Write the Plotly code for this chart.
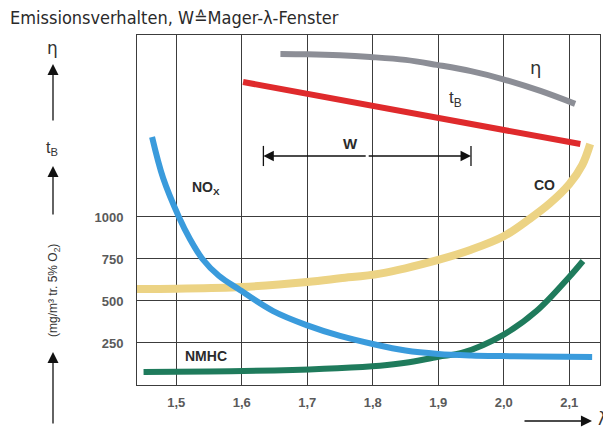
import plotly.graph_objects as go

# ---------------- data ----------------
x_ticks = [1.5, 1.6, 1.7, 1.8, 1.9, 2.0, 2.1]
x_tick_labels = ["1,5", "1,6", "1,7", "1,8", "1,9", "2,0", "2,1"]
y_ticks = [250, 500, 750, 1000]
y_tick_labels = ["250", "500", "750", "1000"]

eta_x = [1.659, 1.70, 1.75, 1.796, 1.85, 1.898, 1.95, 1.998, 2.056, 2.109]
eta_y = [1970, 1968, 1962, 1952, 1935, 1905, 1868, 1821, 1750, 1673]

tb_x = [1.602, 2.117]
tb_y = [1803, 1434]

nox_x = [1.463, 1.48, 1.504, 1.52, 1.540, 1.565, 1.595, 1.648, 1.700, 1.750,
         1.800, 1.850, 1.900, 1.950, 2.000, 2.050, 2.135]
nox_y = [1476, 1230, 1000, 875, 750, 650, 571, 440, 355, 292,
         244, 205, 185, 176, 172, 169, 167]

co_x = [1.440, 1.500, 1.600, 1.700, 1.750, 1.811, 1.900, 1.950, 2.000, 2.040,
        2.070, 2.100, 2.120, 2.132]
co_y = [571, 573, 583, 613, 635, 663, 745, 805, 885, 990,
        1080, 1195, 1310, 1434]

nmhc_x = [1.450, 1.550, 1.650, 1.746, 1.811, 1.850, 1.900, 1.937, 2.000, 2.050,
          2.100, 2.121]
nmhc_y = [77, 80, 87, 100, 115, 132, 168, 192, 300, 440, 643, 738]

w_window = [1.633, 1.950]
w_level = 1363

# ---------------- layout geometry (pixels) ----------------
FW, FH = 603, 427
L, R, T, B = 137, 600, 35, 385
PW, PH = R - L, B - T


def px(xp):
    return (xp - L) / PW


def py(yp):
    return (B - yp) / PH


fig = go.Figure()

fig.add_trace(go.Scatter(x=eta_x, y=eta_y, mode="lines", line=dict(color="#8c8e96", width=6, shape="spline"), hoverinfo="skip"))
fig.add_trace(go.Scatter(x=tb_x, y=tb_y, mode="lines", line=dict(color="#df2a2c", width=6), hoverinfo="skip"))
fig.add_trace(go.Scatter(x=co_x, y=co_y, mode="lines", line=dict(color="#ecd384", width=8, shape="spline"), hoverinfo="skip"))
fig.add_trace(go.Scatter(x=nmhc_x, y=nmhc_y, mode="lines", line=dict(color="#1f7b5c", width=6, shape="spline"), hoverinfo="skip"))
fig.add_trace(go.Scatter(x=nox_x, y=nox_y, mode="lines", line=dict(color="#3a9bdc", width=6, shape="spline"), hoverinfo="skip"))

bold_font = dict(family="Liberation Sans, Arial", size=14, color="#2b2b2b", weight="bold")

annotations = []
# curve labels (data coordinates)
annotations.append(dict(x=2.048, y=1890, text="η", showarrow=False, font=dict(family="DejaVu Sans", size=18, color="#333")))
annotations.append(dict(x=1.926, y=1700, text="t<sub>B</sub>", showarrow=False, font=dict(family="Liberation Sans, Arial", size=17, color="#333")))
annotations.append(dict(x=1.766, y=1440, text="W", showarrow=False, font=dict(family="Liberation Sans, Arial", size=15, color="#2b2b2b", weight="bold")))
annotations.append(dict(x=1.545, y=1175, text="NO<sub>X</sub>", showarrow=False, font=bold_font))
annotations.append(dict(x=2.063, y=1190, text="CO", showarrow=False, font=bold_font))
annotations.append(dict(x=1.545, y=170, text="NMHC", showarrow=False, font=bold_font))

# W window arrows
w_mid = (w_window[0] + w_window[1]) / 2
for xe in w_window:
    annotations.append(dict(x=xe, y=w_level, ax=w_mid, ay=w_level, axref="x", ayref="y", xref="x", yref="y",
                            text="", showarrow=True, arrowhead=2, arrowsize=1.6, arrowwidth=1.3, arrowcolor="#111"))

# title
annotations.append(dict(x=px(8), y=py(17), xref="paper", yref="paper", xanchor="left", yanchor="middle",
                        text="Emissionsverhalten, W≙Mager-λ-Fenster", showarrow=False,
                        font=dict(family="Liberation Sans Narrow, DejaVu Sans Condensed, Arial Narrow", size=18, color="#2a2a2a")))

# left side labels
annotations.append(dict(x=px(52), y=py(48), xref="paper", yref="paper", xanchor="center", yanchor="middle",
                        text="η", showarrow=False, font=dict(family="DejaVu Sans", size=17, color="#333")))
annotations.append(dict(x=px(53), y=py(64), xref="paper", yref="paper", ax=0, ay=58, text="", showarrow=True,
                        arrowhead=2, arrowsize=1.7, arrowwidth=1.3, arrowcolor="#111"))
annotations.append(dict(x=px(52), y=py(148), xref="paper", yref="paper", xanchor="center", yanchor="middle",
                        text="t<sub>B</sub>", showarrow=False,
                        font=dict(family="Liberation Sans, Arial", size=16, color="#333")))
annotations.append(dict(x=px(53), y=py(166), xref="paper", yref="paper", ax=0, ay=50, text="", showarrow=True,
                        arrowhead=2, arrowsize=1.7, arrowwidth=1.3, arrowcolor="#111"))
annotations.append(dict(x=px(54), y=py(291), xref="paper", yref="paper", xanchor="center", yanchor="middle",
                        text="(mg/m³ tr. 5% O<sub>2</sub>)", textangle=-90, showarrow=False,
                        font=dict(family="Liberation Sans, Arial", size=12, color="#333")))
annotations.append(dict(x=px(53), y=py(352), xref="paper", yref="paper", ax=0, ay=73, text="", showarrow=True,
                        arrowhead=2, arrowsize=1.7, arrowwidth=1.3, arrowcolor="#111"))
# lambda arrow
annotations.append(dict(x=px(592), y=py(421), xref="paper", yref="paper", ax=-69, ay=0, text="", showarrow=True,
                        arrowhead=2, arrowsize=1.7, arrowwidth=1.3, arrowcolor="#111"))
annotations.append(dict(x=px(596), y=py(419), xref="paper", yref="paper", xanchor="left", yanchor="middle",
                        text="λ", showarrow=False, font=dict(family="DejaVu Sans", size=17, color="#333")))

shapes = []
for xe in w_window:
    shapes.append(dict(type="line", xref="x", yref="y", x0=xe, x1=xe, y0=w_level - 60, y1=w_level + 60,
                       line=dict(color="#111", width=1.3)))

axis_font = dict(family="Liberation Sans, Arial", size=13, color="#5a5a5a", weight="bold")

fig.update_layout(
    width=FW, height=FH,
    margin=dict(l=L, r=FW - R, t=T, b=FH - B, pad=0),
    paper_bgcolor="white", plot_bgcolor="white",
    showlegend=False,
    annotations=annotations,
    shapes=shapes,
    xaxis=dict(range=[1.44, 2.147], tickvals=x_ticks, ticktext=x_tick_labels, showgrid=True,
               gridcolor="#3c3c3c", gridwidth=1, showline=True, mirror=True, linecolor="#3c3c3c", linewidth=1,
               zeroline=False, ticks="", tickfont=axis_font, ticklabelstandoff=5, fixedrange=True),
    yaxis=dict(range=[0, 2083], tickvals=y_ticks, ticktext=y_tick_labels, showgrid=True,
               gridcolor="#3c3c3c", gridwidth=1, showline=True, mirror=True, linecolor="#3c3c3c", linewidth=1,
               zeroline=False, ticks="", tickfont=axis_font, ticklabelstandoff=10, fixedrange=True),
)

fig.write_html("out.html", config={"displayModeBar": False},
               post_script="document.body.style.margin='0';document.body.style.overflow='hidden';")
